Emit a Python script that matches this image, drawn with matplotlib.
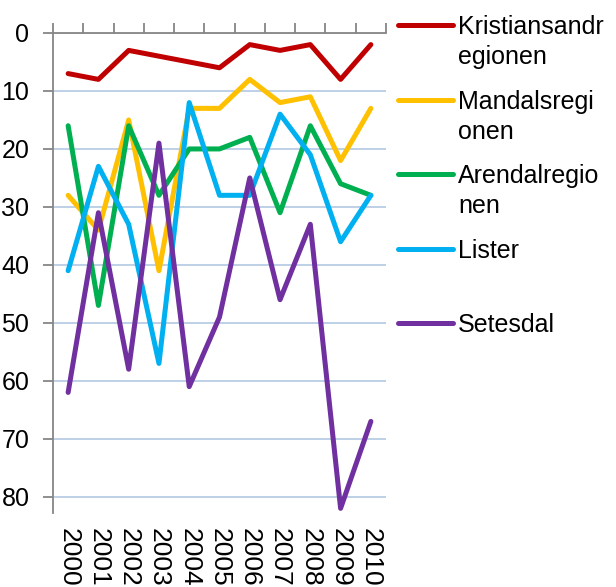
import numpy as np
import matplotlib.pyplot as plt
from matplotlib.lines import Line2D

plt.rcParams['font.family'] = ['Liberation Sans', 'DejaVu Sans']

# years and ranking per region
years = ["2000", "2001", "2002", "2003", "2004", "2005", "2006", "2007", "2008", "2009", "2010"]
kristiansand = [7, 8, 3, 4, 5, 6, 2, 3, 2, 8, 2]
mandal = [28, 34, 15, 41, 13, 13, 8, 12, 11, 22, 13]
arendal = [16, 47, 16, 28, 20, 20, 18, 31, 16, 26, 28]
lister = [41, 23, 33, 57, 12, 28, 28, 14, 21, 36, 28]
setesdal = [62, 31, 58, 19, 61, 49, 25, 46, 33, 82, 67]

labels = ["Kristiansandr\negionen", "Mandalsregi\nonen", "Arendalregio\nnen", "Lister", "Setesdal"]
series = [kristiansand, mandal, arendal, lister, setesdal]
colors = ["#C00000", "#FFC000", "#00B050", "#00B0F0", "#7030A0"]
yticks = [0, 10, 20, 30, 40, 50, 60, 70, 80]

W, H = 616, 587
fig = plt.figure(figsize=(W / 100, H / 100), dpi=100)
ax = fig.add_axes([53 / W, 1 - 513 / H, 333 / W, 480 / H])

x = np.arange(len(years))
for vals, c in zip(series, colors):
    ax.plot(x, vals, color=c, lw=3.6, solid_joinstyle='round', solid_capstyle='round', zorder=3)

ax.set_xlim(-0.5, len(years) - 0.5)
ax.set_ylim(82.8, 0)

# grid
ax.set_yticks(yticks)
ax.yaxis.grid(True, color="#B9CDE5", lw=1.3)
ax.set_axisbelow(True)

for s in ["right", "bottom"]:
    ax.spines[s].set_visible(False)
for s in ["left", "top"]:
    ax.spines[s].set_color("#868686")
    ax.spines[s].set_linewidth(1.3)

ax.tick_params(axis='y', labelsize=18, length=7, width=1.3, color="#868686", pad=10)

# tick marks between categories at the top, year labels at the bottom
ax.set_xticks(np.arange(len(years) + 1) - 0.5)
ax.set_xticks(x, minor=True)
ax.set_xticklabels(years, minor=True, rotation=270, fontsize=19)
ax.tick_params(axis='x', which='major', top=True, bottom=False, labeltop=False, labelbottom=False,
               length=7, width=1.3, color="#868686")
ax.tick_params(axis='x', which='minor', top=False, bottom=True, labelbottom=True, length=0, pad=11)
for t in ax.get_xticklabels(minor=True):
    t.set_va('top')

# legend
for i, (lab, c) in enumerate(zip(labels, colors)):
    yp = 25 + 74.5 * i
    fig.add_artist(Line2D([398 / W, 453 / W], [1 - yp / H, 1 - yp / H], color=c, lw=3.6,
                          solid_capstyle='round'))
    fig.text(458 / W, 1 - (yp - 10) / H, lab, fontsize=18, va='top', ha='left', linespacing=1.32)

fig.savefig("out.png", dpi=100)
